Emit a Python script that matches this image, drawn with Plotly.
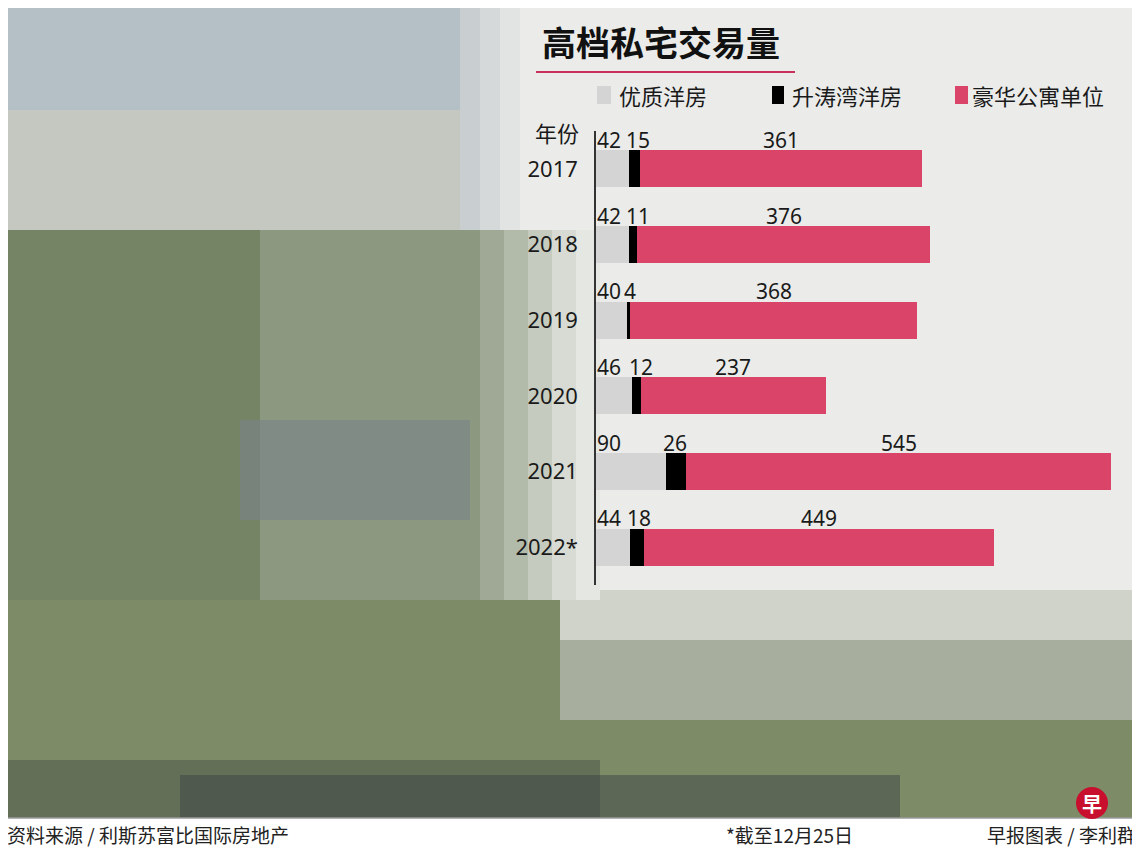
import plotly.graph_objects as go

years = ["2017", "2018", "2019", "2020", "2021", "2022*"]
premium_landed = [42, 42, 40, 46, 90, 44]
sentosa_landed = [15, 11, 4, 12, 26, 18]
luxury_condo = [361, 376, 368, 237, 545, 449]
series_names = ["优质洋房", "升涛湾洋房", "豪华公寓单位"]
series_colors = ["#d4d4d4", "#000000", "#d94468"]

# page offset of the figure (default body margin)
O = 8
W, H = 1140 - O, 856 - O
L, R, T, B = 596 - O, 15, 131 - O, 271
PW, PH = W - L - R, H - T - B


def px(xp):
    return (xp - O - L) / PW


def py(yp):
    return (H - B - (yp - O)) / PH


fig = go.Figure()
for name, vals, col in zip(series_names, [premium_landed, sentosa_landed, luxury_condo], series_colors):
    fig.add_trace(go.Bar(
        y=years, x=vals, name=name, orientation="h",
        marker=dict(color=col, line=dict(width=0)),
        hoverinfo="x+name", showlegend=False,
    ))

ann = []
lab_font = dict(family="Noto Sans, Open Sans, sans-serif", size=21, color="#1a1a1a")
for i, yr in enumerate(years):
    g, b, r = premium_landed[i], sentosa_landed[i], luxury_condo[i]
    ann.append(dict(x=0, y=i, xref="x", yref="y", text=str(g), showarrow=False,
                    xanchor="left", yanchor="middle", yshift=29, xshift=-1, font=lab_font))
    ann.append(dict(x=g, y=i, xref="x", yref="y", text=str(b), showarrow=False,
                    xanchor="left", yanchor="middle", yshift=29, xshift=-5, font=lab_font))
    ann.append(dict(x=g + b + r / 2, y=i, xref="x", yref="y", text=str(r), showarrow=False,
                    xanchor="center", yanchor="middle", yshift=29, font=lab_font))

cjk = "Noto Sans CJK SC, sans-serif"
ann.append(dict(x=px(540), y=py(42), xref="paper", yref="paper", text="<b>高档私宅交易量</b>",
                showarrow=False, xanchor="left", yanchor="middle",
                font=dict(family=cjk, size=34, color="#111111")))
ann.append(dict(x=px(581), y=py(132), xref="paper", yref="paper", text="年份",
                showarrow=False, xanchor="right", yanchor="middle",
                font=dict(family=cjk, size=22, color="#1a1a1a")))
foot_font = dict(family=cjk, size=19, color="#222222")
ann.append(dict(x=px(5), y=py(834), xref="paper", yref="paper", text="资料来源 / 利斯苏富比国际房地产",
                showarrow=False, xanchor="left", yanchor="middle", font=foot_font))
ann.append(dict(x=px(724), y=py(834), xref="paper", yref="paper", text="*截至12月25日",
                showarrow=False, xanchor="left", yanchor="middle", font=foot_font))
ann.append(dict(x=px(1138), y=py(834), xref="paper", yref="paper", text="早报图表 / 李利群",
                showarrow=False, xanchor="right", yanchor="middle", font=foot_font))
ann.append(dict(x=px(1092), y=py(803), xref="paper", yref="paper", text="<b>早</b>",
                showarrow=False, xanchor="center", yanchor="middle",
                font=dict(family=cjk, size=20, color="#ffffff")))

# legend (manual)
leg_sq = [(597, 611), (772, 784), (955, 968)]
leg_tx = [617, 790, 970]
leg_font = dict(family=cjk, size=22, color="#1a1a1a")
for name, col, (sx0, sx1), tx in zip(series_names, series_colors, leg_sq, leg_tx):
    ann.append(dict(x=px(tx), y=py(95), xref="paper", yref="paper", text=name, showarrow=False,
                    xanchor="left", yanchor="middle", font=leg_font))


def rect(x0, y0, x1, y1, color, opacity=1.0, layer="below"):
    return dict(type="rect", xref="paper", yref="paper", x0=px(x0), x1=px(x1), y0=py(y1), y1=py(y0),
                fillcolor=color, opacity=opacity, line=dict(width=0), layer=layer)


shapes = []
# background photo impression (decorative)
shapes.append(rect(0, 0, 1140, 818, "#ebecea"))
shapes.append(rect(0, 0, 520, 110, "#b4bfc6"))
shapes.append(rect(0, 110, 520, 230, "#c4c8c1"))
shapes.append(rect(0, 230, 540, 600, "#8d9880"))
shapes.append(rect(0, 230, 260, 600, "#6f7e5d", 0.75))
shapes.append(rect(240, 420, 470, 520, "#7a8288", 0.6))
shapes.append(rect(0, 600, 1140, 818, "#7d8b67"))
shapes.append(rect(560, 590, 1140, 640, "#cfd3c9"))
shapes.append(rect(560, 640, 1140, 720, "#a7ae9d"))
shapes.append(rect(0, 760, 600, 818, "#4f5a48", 0.55))
shapes.append(rect(180, 775, 900, 818, "#3e4446", 0.5))
fade = ["#9fa995", "#b2baa9", "#c5cbbf", "#d7dbd3", "#e5e7e3"]
for k, c in enumerate(fade):
    shapes.append(rect(480 + k * 24, 230, 504 + k * 24, 600, c))
fade2 = ["#c9ced0", "#d6d9da", "#e2e4e3"]
for k, c in enumerate(fade2):
    shapes.append(rect(460 + k * 20, 0, 480 + k * 20, 230, c))
shapes.append(rect(520, 0, 1140, 230, "#ebecea"))
# footer
shapes.append(rect(0, 818, 1140, 856, "#ffffff"))
shapes.append(dict(type="line", xref="paper", yref="paper", x0=px(0), x1=px(1140), y0=py(818), y1=py(818),
                   line=dict(color="#9a9a9a", width=1.5), layer="below"))
# title underline
shapes.append(dict(type="line", xref="paper", yref="paper", x0=px(536), x1=px(795), y0=py(72), y1=py(72),
                   line=dict(color="#c8325a", width=2), layer="above"))
# legend squares
for col, (sx0, sx1) in zip(series_colors, leg_sq):
    shapes.append(rect(sx0, 86, sx1, 104, col, layer="above"))
# logo circle
shapes.append(dict(type="circle", xref="paper", yref="paper", x0=px(1076), x1=px(1108), y0=py(819), y1=py(787),
                   fillcolor="#c8102e", line=dict(width=0), layer="above"))

fig.update_layout(
    width=W, height=H,
    margin=dict(l=L, r=R, t=T, b=B, pad=0),
    barmode="stack", bargap=0.51,
    paper_bgcolor="#ebecea", plot_bgcolor="rgba(0,0,0,0)",
    xaxis=dict(range=[0, PW / 0.779], visible=False, fixedrange=True),
    yaxis=dict(type="category", range=[len(years) - 0.5, -0.5], showline=True, linecolor="#333333",
               linewidth=1.5, ticks="", ticklabelstandoff=12, showgrid=False, fixedrange=True,
               tickfont=dict(family="Noto Sans, Open Sans, sans-serif", size=22, color="#1a1a1a")),
    showlegend=False,
    annotations=ann, shapes=shapes,
)

fig.write_html("out.html")
